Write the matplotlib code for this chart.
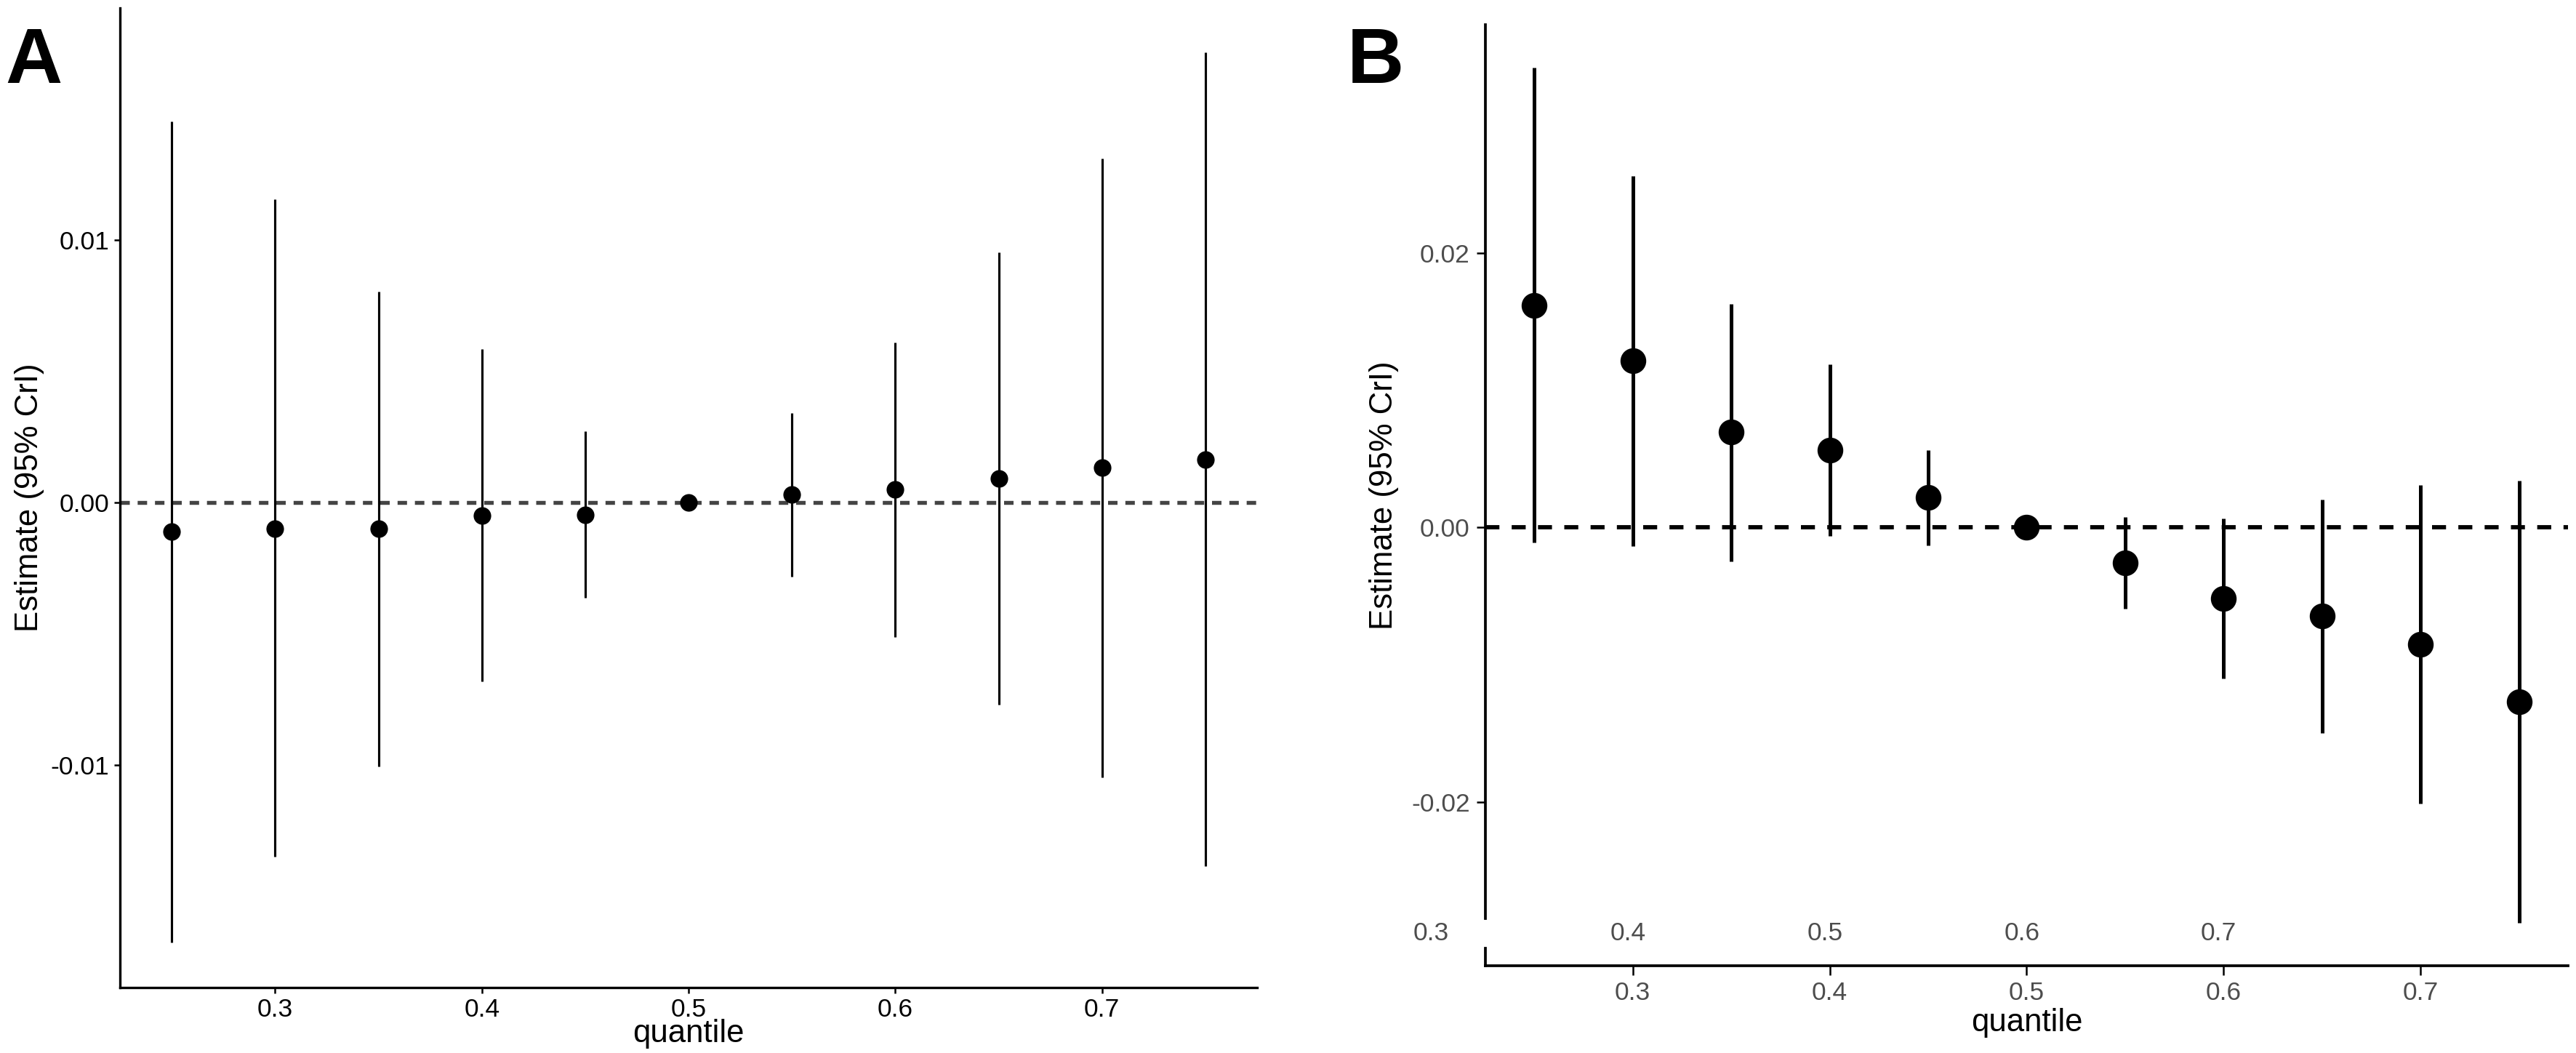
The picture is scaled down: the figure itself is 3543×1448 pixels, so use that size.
import matplotlib.pyplot as plt
import numpy as np

plt.rcParams['font.family'] = ['Liberation Sans', 'DejaVu Sans']

quantiles = [0.25, 0.30, 0.35, 0.40, 0.45, 0.50, 0.55, 0.60, 0.65, 0.70, 0.75]

# panel A
est_a = [-0.0011, -0.0010, -0.0010, -0.00051, -0.00046, 0.0, 0.00031, 0.00049, 0.00092, 0.00133, 0.00164]
low_a = [-0.01675, -0.01348, -0.01003, -0.0068, -0.00363, 0.0, -0.00281, -0.00512, -0.0077, -0.01046, -0.01384]
high_a = [0.0145, 0.01153, 0.00803, 0.00583, 0.00271, 0.0, 0.0034, 0.00609, 0.00951, 0.01309, 0.01711]

# panel B
est_b = [0.01622, 0.01214, 0.00698, 0.00565, 0.00221, 0.0, -0.00256, -0.00516, -0.00644, -0.0085, -0.01268]
low_b = [-0.00108, -0.00138, -0.00246, -0.00064, -0.00128, 0.0, -0.0059, -0.011, -0.01499, -0.02015, -0.02885]
high_b = [0.03356, 0.02565, 0.01631, 0.01189, 0.00565, 0.0, 0.00074, 0.00064, 0.00206, 0.0031, 0.00339]

x_ticks = [0.3, 0.4, 0.5, 0.6, 0.7]
x_ticklabels = ["0.3", "0.4", "0.5", "0.6", "0.7"]
ya_ticks = [-0.01, 0.0, 0.01]
ya_labels = ["-0.01", "0.00", "0.01"]
yb_ticks = [-0.02, 0.0, 0.02]
yb_labels = ["-0.02", "0.00", "0.02"]
stray_labels = ["0.3", "0.4", "0.5", "0.6", "0.7"]


def padded(lo, hi, f=0.05):
    r = hi - lo
    return lo - f * r, hi + f * r


fig = plt.figure(figsize=(3543 / 300, 1448 / 300), dpi=300)

# ---- A ----
axa = fig.add_axes([0.0466, 0.0624, 0.4414, 0.9298])
for q, lo, hi in zip(quantiles, low_a, high_a):
    axa.plot([q, q], [lo, hi], color='black', lw=0.75, solid_capstyle='butt')
axa.plot(quantiles, est_a, 'o', color='black', ms=4.8, zorder=3)
axa.axhline(0, color='#444444', lw=1.3, ls=(0, (2.4, 2.0)), zorder=1)
axa.set_xlim(padded(min(quantiles), max(quantiles)))
axa.set_ylim(padded(min(low_a), max(high_a)))
axa.set_xticks(x_ticks)
axa.set_xticklabels(x_ticklabels)
axa.set_yticks(ya_ticks)
axa.set_yticklabels(ya_labels)
axa.tick_params(labelsize=8.5, length=2, width=0.6, pad=1.5, colors='black')
for s in ['top', 'right']:
    axa.spines[s].set_visible(False)
for s in ['left', 'bottom']:
    axa.spines[s].set_linewidth(0.8)
axa.set_xlabel("quantile", fontsize=10.5, labelpad=-1)
axa.set_ylabel("Estimate (95% CrI)", fontsize=10.5, labelpad=2)
fig.text(0.002, 0.975, "A", fontsize=26, fontweight='bold', va='top', ha='left')

# ---- B ----
axb = fig.add_axes([0.5765, 0.0827, 0.4205, 0.894])
for q, lo, hi in zip(quantiles, low_b, high_b):
    axb.plot([q, q], [lo, hi], color='black', lw=1.2, solid_capstyle='butt')
axb.plot(quantiles, est_b, 'o', color='black', ms=7.5, zorder=3)
axb.axhline(0, color='black', lw=1.4, ls=(0, (3.3, 2.9)), zorder=1)
xl = padded(min(quantiles), max(quantiles))
yl = padded(min(low_b), max(high_b))
axb.set_xlim(xl)
axb.set_ylim(yl)
axb.set_xticks(x_ticks)
axb.set_xticklabels(x_ticklabels)
axb.set_yticks(yb_ticks)
axb.set_yticklabels(yb_labels)
axb.tick_params(labelsize=8.5, length=3, width=0.6, pad=2, colors='black', labelcolor='#4d4d4d')
for s in ['top', 'right']:
    axb.spines[s].set_visible(False)
axb.spines['bottom'].set_linewidth(0.9)
axb.spines['left'].set_linewidth(0.9)
axb.spines['left'].set_bounds(-0.0285, yl[1])
axb.plot([xl[0], xl[0]], [yl[0], -0.0307], color='black', lw=0.9, clip_on=False)
for lab in stray_labels:
    axb.text(float(lab) - 0.1025, -0.0296, lab, fontsize=8.5, color='#4d4d4d',
             ha='center', va='center', clip_on=False)
axb.set_xlabel("quantile", fontsize=10.5, labelpad=1)
axb.set_ylabel("Estimate (95% CrI)", fontsize=10.5, labelpad=4)
fig.text(0.523, 0.975, "B", fontsize=26, fontweight='bold', va='top', ha='left')

fig.savefig("out.png", dpi=300)
